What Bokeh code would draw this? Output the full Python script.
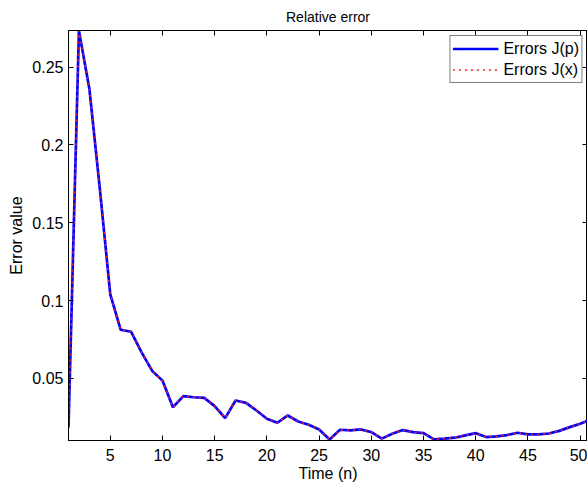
from bokeh.plotting import figure
from bokeh.models import LinearAxis, FixedTicker, Range1d, Title
from bokeh.embed import file_html
from bokeh.resources import INLINE

time_n = list(range(1, 52))
errors_jp = [0.0184, 0.2735, 0.236, 0.172, 0.104, 0.0812, 0.0799, 0.0667, 0.0549, 0.0485,
             0.0314, 0.0385, 0.0378, 0.0374, 0.0321, 0.0244, 0.0357, 0.0342, 0.0293, 0.0240,
             0.0214, 0.0261, 0.0222, 0.0201, 0.0171, 0.0107, 0.0169, 0.0165, 0.0171, 0.0154,
             0.0112, 0.0143, 0.0167, 0.0154, 0.0147, 0.0107, 0.0112, 0.0118, 0.0133, 0.0147,
             0.0122, 0.0126, 0.0135, 0.0150, 0.0139, 0.0139, 0.0145, 0.0162, 0.0186, 0.0208,
             0.0235]
errors_jx = [0.0184, 0.2735, 0.236, 0.172, 0.104, 0.0812, 0.0799, 0.0667, 0.0549, 0.0485,
             0.0314, 0.0385, 0.0378, 0.0374, 0.0321, 0.0244, 0.0357, 0.0342, 0.0293, 0.0240,
             0.0214, 0.0261, 0.0222, 0.0201, 0.0171, 0.0107, 0.0169, 0.0165, 0.0171, 0.0154,
             0.0112, 0.0143, 0.0167, 0.0154, 0.0147, 0.0107, 0.0112, 0.0118, 0.0133, 0.0147,
             0.0122, 0.0126, 0.0135, 0.0150, 0.0139, 0.0139, 0.0145, 0.0162, 0.0186, 0.0208,
             0.0235]
x_ticks = [5, 10, 15, 20, 25, 30, 35, 40, 45, 50]
y_ticks = [0.05, 0.1, 0.15, 0.2, 0.25]
y_tick_labels = ["0.05", "0.1", "0.15", "0.2", "0.25"]

FONT = "Liberation Sans"

p = figure(width=587, height=484, output_backend="svg", toolbar_location=None,
           x_range=Range1d(1, 50.7), y_range=Range1d(0.0100, 0.2736),
           min_border_left=68, min_border_right=0, min_border_top=0, min_border_bottom=0,
           x_axis_label="Time (n)", y_axis_label="Error value")

p.title = Title(text="Relative error", align="center", text_font=FONT,
                text_font_size="14px", text_font_style="normal", text_color="black",
                standoff=12)

p.background_fill_color = "white"
p.border_fill_color = "white"
p.outline_line_color = "black"
p.outline_line_width = 1
p.xgrid.grid_line_color = None
p.ygrid.grid_line_color = None

p.line(time_n, errors_jp, line_color="#0000ff", line_width=2.7, legend_label="Errors J(p)")
p.line(time_n, errors_jx, line_color="#ff2020", line_width=1.5, line_dash="2 4",
       legend_label="Errors J(x)")

y_over = {t: l for t, l in zip(y_ticks, y_tick_labels)}

def style_axis(ax, ticks):
    ax.ticker = FixedTicker(ticks=ticks)
    ax.minor_tick_line_color = None
    ax.major_tick_in = 5
    ax.major_tick_out = 0
    ax.major_tick_line_color = "black"
    ax.axis_line_color = "black"
    ax.major_label_text_font = FONT
    ax.major_label_text_font_size = "16px"
    ax.major_label_text_color = "black"
    ax.axis_label_text_font = FONT
    ax.axis_label_text_font_size = "16px"
    ax.axis_label_text_font_style = "normal"
    ax.axis_label_text_color = "black"

for ax in p.xaxis:
    style_axis(ax, x_ticks)
    ax.major_label_standoff = 8
    ax.axis_label_standoff = 1
for ax in p.yaxis:
    style_axis(ax, y_ticks)
    ax.major_label_overrides = y_over
    ax.major_label_standoff = 5
    ax.axis_label_standoff = 4

top_ax = LinearAxis()
style_axis(top_ax, x_ticks)
top_ax.major_label_overrides = {t: "" for t in x_ticks}
top_ax.major_label_standoff = 0
p.add_layout(top_ax, "above")
right_ax = LinearAxis()
style_axis(right_ax, y_ticks)
right_ax.major_label_overrides = {t: "" for t in y_ticks}
right_ax.major_label_standoff = 0
p.add_layout(right_ax, "right")

lg = p.legend[0]
lg.location = "top_right"
lg.margin = 5
lg.padding = 2
lg.spacing = 0
lg.glyph_width = 46
lg.glyph_height = 21
lg.label_height = 21
lg.label_standoff = 5
lg.label_text_font = FONT
lg.label_text_font_size = "16px"
lg.label_text_color = "black"
lg.border_line_color = "black"
lg.border_line_width = 1
lg.background_fill_color = "white"
lg.background_fill_alpha = 1

open("out.html", "w").write(file_html(p, INLINE))
